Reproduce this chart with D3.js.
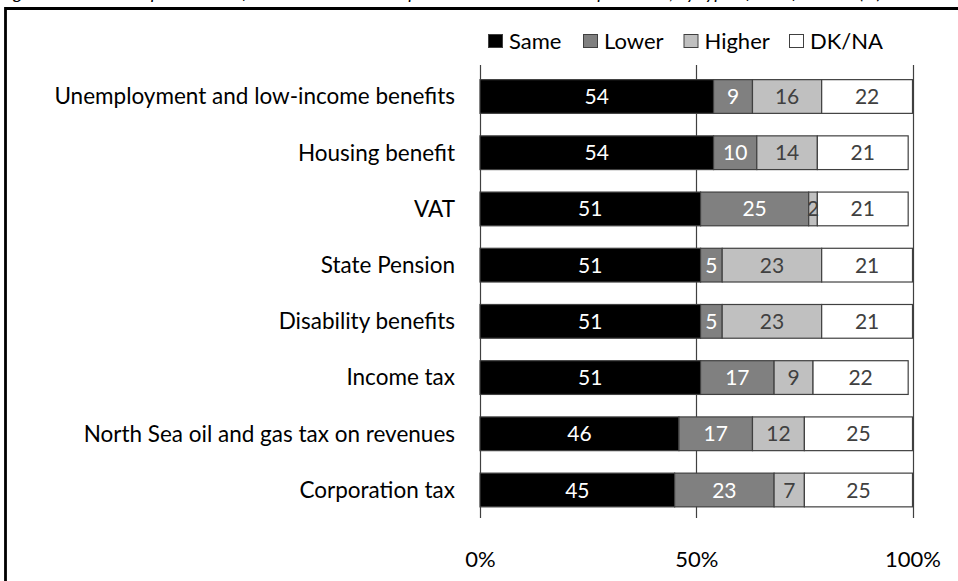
<!DOCTYPE html>
<html>
<head>
<meta charset="utf-8">
<script src="https://cdn.jsdelivr.net/npm/d3@7"></script>
<style>
  html, body { margin: 0; padding: 0; background: #fff; overflow: hidden; }
  svg { display: block; }
  text { font-family: Lato, "Open Sans", sans-serif; }
</style>
</head>
<body>
<svg id="chart" width="958" height="581"></svg>
<script>
// Survey items, top to bottom
const categories = [
  "Unemployment and low-income benefits",
  "Housing benefit",
  "VAT",
  "State Pension",
  "Disability benefits",
  "Income tax",
  "North Sea oil and gas tax on revenues",
  "Corporation tax"
];
const seriesNames = ["Same", "Lower", "Higher", "DK/NA"];
const same   = [54, 54, 51, 51, 51, 51, 46, 45];
const lower  = [9, 10, 25, 5, 5, 17, 17, 23];
const higher = [16, 14, 2, 23, 23, 9, 12, 7];
const dkna   = [22, 21, 21, 21, 21, 22, 25, 25];
const tickValues = [0, 50, 100];
const tickLabels = ["0%", "50%", "100%"];

const fills = ["#000000", "#808080", "#c0c0c0", "#ffffff"];
const labelColors = ["#ffffff", "#ffffff", "#404040", "#404040"];

const rows = categories.map((c, i) => ({
  category: c, Same: same[i], Lower: lower[i], Higher: higher[i], "DK/NA": dkna[i]
}));
const stacked = d3.stack().keys(seriesNames)(rows);

const svg = d3.select("#chart");

// Heading line sits mostly above the page edge
svg.append("text")
  .attr("x", 0).attr("y", -1)
  .attr("font-size", 18).attr("font-style", "italic").attr("fill", "#000")
  .text("Figure 4.1: Public expectations of how each would compare with now under independence, by type of benefit or tax (%)");

// Outer frame
svg.append("path")
  .attr("d", "M5.5,600 V8.5 H970")
  .attr("fill", "none").attr("stroke", "#000").attr("stroke-width", 2.8);

const plotTop = 65, plotBottom = 518;
const x = d3.scaleLinear().domain([0, 100]).range([480, 912.5]).clamp(true);
const y = d3.scaleBand().domain(categories).range([68.4, 518.1]).paddingInner(0.4).paddingOuter(0.2);

// Vertical gridlines at 0%, 50% and 100%
svg.append("g").selectAll("line")
  .data(tickValues)
  .join("line")
  .attr("x1", d => Math.round(x(d)) + 0.5).attr("x2", d => Math.round(x(d)) + 0.5)
  .attr("y1", plotTop).attr("y2", plotBottom)
  .attr("stroke", "#404040").attr("stroke-width", 1.2);

// Value axis labels (no axis line, no tick marks)
const xAxis = svg.append("g")
  .attr("transform", `translate(0,${plotBottom})`)
  .call(d3.axisBottom(x).tickValues(tickValues).tickFormat((d, i) => tickLabels[i]).tickSize(0).tickPadding(33));
xAxis.select(".domain").remove();
xAxis.selectAll(".tick line").remove();
xAxis.selectAll(".tick text")
  .attr("font-size", 22).attr("fill", "#000").attr("font-family", "'DejaVu Serif', serif");

// Category labels
svg.append("g").selectAll("text")
  .data(categories)
  .join("text")
  .attr("x", 455)
  .attr("y", d => y(d) + y.bandwidth() / 2)
  .attr("dy", "0.35em")
  .attr("text-anchor", "end")
  .attr("font-size", 22.5).attr("fill", "#000")
  .text(d => d);

// Stacked bars
const layers = svg.append("g").selectAll("g")
  .data(stacked)
  .join("g")
  .attr("fill", (d, i) => fills[i]);

layers.selectAll("rect")
  .data(d => d)
  .join("rect")
  .attr("x", d => x(d[0]))
  .attr("y", d => y(d.data.category))
  .attr("width", d => x(d[1]) - x(d[0]))
  .attr("height", y.bandwidth())
  .attr("stroke", "#404040").attr("stroke-width", 1.2);

// Value labels
stacked.forEach((layer, si) => {
  svg.append("g").selectAll("text")
    .data(layer)
    .join("text")
    .attr("x", d => (x(d[0]) + x(d[1])) / 2)
    .attr("y", d => y(d.data.category) + y.bandwidth() / 2)
    .attr("dy", "0.36em")
    .attr("text-anchor", "middle")
    .attr("font-size", 21)
    .attr("fill", labelColors[si])
    .text(d => d[1] - d[0]);
});

// Legend
const legendX = [488.5, 583.5, 684, 789.5];
const legend = svg.append("g").selectAll("g")
  .data(seriesNames)
  .join("g")
  .attr("transform", (d, i) => `translate(${legendX[i]},34.5)`);
legend.append("rect")
  .attr("width", 14).attr("height", 13)
  .attr("fill", (d, i) => fills[i])
  .attr("stroke", "#404040").attr("stroke-width", 1);
legend.append("text")
  .attr("x", 20.5).attr("y", 6.5).attr("dy", "0.36em")
  .attr("font-size", 22).attr("fill", "#000")
  .text(d => d);
</script>
</body>
</html>
